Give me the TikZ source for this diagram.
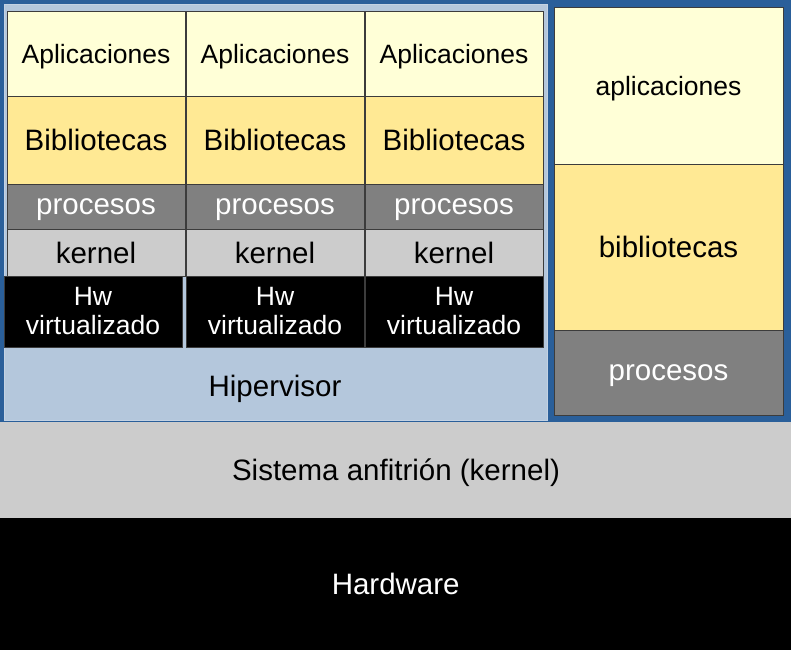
\documentclass[tikz,border=0pt]{standalone}
\usepackage{fontspec}
\setmainfont{Liberation Sans}
\definecolor{bgblue}{HTML}{2A5F9A}
\definecolor{hvblue}{HTML}{B4C7DC}
\definecolor{appyel}{HTML}{FFFFD7}
\definecolor{libyel}{HTML}{FFE994}
\definecolor{procgray}{HTML}{808080}
\definecolor{kergray}{HTML}{CCCCCC}
\definecolor{edgegray}{HTML}{3C3C3C}
\begin{document}
\begin{tikzpicture}[x=1pt,y=-1pt,
  cell/.style={draw=edgegray,line width=0.8pt,inner sep=0pt,outer sep=0pt,anchor=north west,align=center,font=\fontsize{29.5}{32}\selectfont},
  nodepth/.style={text depth=0pt},
  small/.style={font=\fontsize{26.5}{29}\selectfont},
  appc/.style={cell,fill=appyel,small,nodepth},
  libc/.style={cell,fill=libyel,nodepth},
  procc/.style={cell,fill=procgray,text=white,nodepth},
  kerc/.style={cell,fill=kergray,nodepth},
  hwc/.style={cell,fill=black,text=white,small},
  lbl/.style={inner sep=0pt,font=\fontsize{29.5}{32}\selectfont}]
\fill[bgblue] (0,0) rectangle (791,650);
\useasboundingbox (0,0) rectangle (791,650);
% hypervisor area
\node[fill=hvblue,draw=hvblue!80!white,line width=0.6pt,inner sep=0pt,anchor=north west,minimum width=543pt,minimum height=416pt] (hyp) at (4,4) {};
\node[lbl,text depth=0pt] (hyplabel) at (275,386) {Hipervisor};
% VM columns
\foreach \i/\x/\hx in {1/7/4,2/186/186,3/365/365}{
  \node[appc,minimum width=178pt,minimum height=85pt] (app\i) at (\x,11) {Aplicaciones};
  \node[libc,minimum width=178pt,minimum height=88pt] (lib\i) at (\x,96) {Bibliotecas};
  \node[procc,minimum width=178pt,minimum height=45pt] (proc\i) at (\x,184) {procesos};
  \node[kerc,minimum width=178pt,minimum height=47pt] (ker\i) at (\x,229) {kernel};
  \node[hwc,minimum width=178pt,minimum height=71pt] (hw\i) at (\hx,276) {Hw\\virtualizado};
}
% right container
\node[appc,minimum width=229pt,minimum height=157pt] (rapp) at (554,7) {aplicaciones};
\node[libc,minimum width=229pt,minimum height=166pt] (rlib) at (554,164) {bibliotecas};
\node[procc,minimum width=229pt,minimum height=85pt] (rproc) at (554,330) {procesos};
% host kernel
\node[fill=kergray,draw=bgblue,line width=1pt,inner sep=0pt,anchor=north west,minimum width=793pt,minimum height=97pt,text depth=0pt,font=\fontsize{29.5}{32}\selectfont] (host) at (-1,421) {Sistema anfitrión (kernel)};
% hardware
\node[fill=black,inner sep=0pt,anchor=north west,minimum width=791pt,minimum height=132pt,text=white,font=\fontsize{29.5}{32}\selectfont] (hard) at (0,518) {Hardware};
\end{tikzpicture}
\end{document}
